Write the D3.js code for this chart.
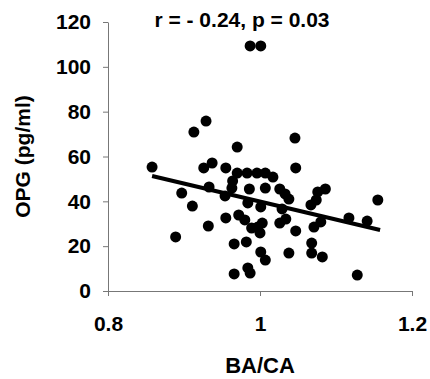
<!DOCTYPE html>
<html>
<head>
<meta charset="utf-8">
<script src="https://cdn.jsdelivr.net/npm/d3@7"></script>
<style>
    body { margin: 0; background: #fff; }
    svg text { font-family: "Liberation Sans", Arial, sans-serif; font-weight: bold; fill: #000; }
</style>
</head>
<body>
<svg width="430" height="379"></svg>
<script>
// BA/CA vs OPG (pg/ml)
var baca = [0.858, 0.889, 0.897, 0.911, 0.913, 0.929, 0.926, 0.937, 0.933, 0.932,
    0.955, 0.954, 0.955, 0.963, 0.966, 0.966, 0.970, 0.987, 1.001, 0.970,
    0.983, 0.996, 1.007, 1.017, 0.964, 0.972, 0.980, 0.986, 0.984, 0.982,
    0.984, 0.987, 0.989, 0.997, 1.003, 1.000, 1.001, 1.001, 1.007, 1.007,
    1.026, 1.033, 1.038, 1.026, 1.034, 1.029, 1.038, 1.047, 1.046, 1.047,
    1.068, 1.068, 1.071, 1.082, 1.080, 1.067, 1.074, 1.076, 1.086, 1.117,
    1.141, 1.155, 1.128];
var opg = [55.3, 24.1, 43.7, 37.9, 70.9, 75.8, 54.9, 57.1, 46.4, 29.0,
    54.9, 42.4, 32.6, 45.9, 21.0, 7.6, 64.2, 109.3, 109.3, 52.6,
    52.6, 52.6, 52.6, 50.8, 49.1, 33.9, 31.7, 45.5, 39.3, 21.9,
    10.3, 8.0, 28.1, 28.5, 30.3, 25.9, 37.5, 17.4, 13.8, 45.9,
    45.5, 43.3, 41.0, 30.3, 32.1, 36.6, 16.9, 26.8, 68.2, 54.9,
    21.4, 16.9, 28.5, 15.2, 30.8, 38.4, 40.6, 44.2, 45.5, 32.6,
    31.2, 40.6, 7.1];

// regression line end points
var fitX = [0.858, 1.158];
var fitY = [51.3, 27.2];

var xTicks = [0.8, 1, 1.2];
var yTicks = [0, 20, 40, 60, 80, 100, 120];
var title = "r = - 0.24, p = 0.03";

var svg = d3.select("svg"),
    margin = {top: 22, right: 18, bottom: 88, left: 108},
    width = +svg.attr("width") - margin.left - margin.right,
    height = +svg.attr("height") - margin.top - margin.bottom,
    g = svg.append("g").attr("transform", "translate(" + margin.left + "," + margin.top + ")");

var x = d3.scaleLinear().domain([0.8, 1.2]).range([0, width]);
var y = d3.scaleLinear().domain([0, 120]).range([height, 0]);

var xAxis = g.append("g")
    .attr("transform", "translate(0," + height + ")")
    .call(d3.axisBottom(x).tickValues(xTicks).tickSize(5).tickSizeOuter(0).tickPadding(20)
        .tickFormat(function (d) { return d === 1 ? "1" : d3.format(".1f")(d); }));

var yAxis = g.append("g")
    .call(d3.axisLeft(y).tickValues(yTicks).tickSize(5).tickSizeOuter(0).tickPadding(12));

[xAxis, yAxis].forEach(function (a) {
    a.select(".domain").attr("stroke", "#777").attr("stroke-width", 1);
    a.selectAll(".tick line").attr("stroke", "#777");
    a.selectAll(".tick text").style("font-size", "21px");
});

g.selectAll("circle")
    .data(baca)
    .enter().append("circle")
    .attr("cx", function (d) { return x(d); })
    .attr("cy", function (d, i) { return y(opg[i]); })
    .attr("r", 5.5)
    .attr("fill", "#000");

var line = d3.line()
    .x(function (d) { return x(d); })
    .y(function (d, i) { return y(fitY[i]); });

g.append("path")
    .datum(fitX)
    .attr("fill", "none")
    .attr("stroke", "#000")
    .attr("stroke-width", 4)
    .attr("d", line);

svg.append("text")
    .attr("x", 242)
    .attr("y", 27)
    .attr("text-anchor", "middle")
    .style("font-size", "21px")
    .text(title);

svg.append("text")
    .attr("x", margin.left + width / 2)
    .attr("y", 373)
    .attr("text-anchor", "middle")
    .style("font-size", "22px")
    .text("BA/CA");

svg.append("text")
    .attr("transform", "translate(30," + (margin.top + height / 2) + ") rotate(-90)")
    .attr("text-anchor", "middle")
    .style("font-size", "21px")
    .text("OPG (pg/ml)");
</script>
</body>
</html>
